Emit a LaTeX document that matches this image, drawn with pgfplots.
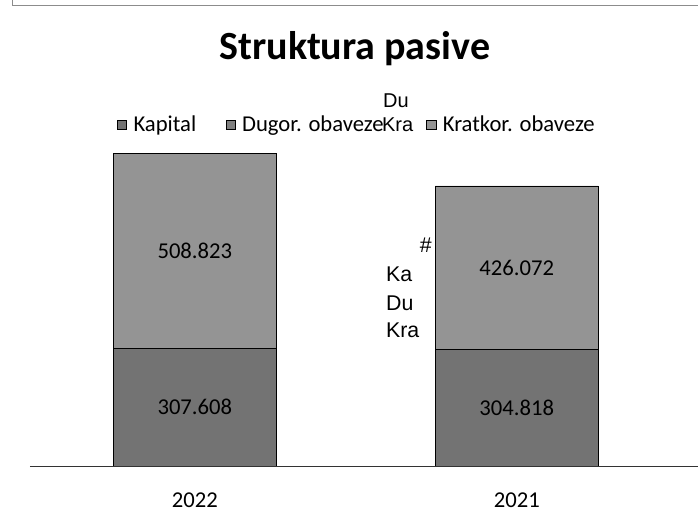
\documentclass[border=0pt]{standalone}
\usepackage{pgfplots}
\pgfplotsset{compat=1.18}
\usepackage{fontspec}
\setmainfont{Carlito}
\newfontfamily\arialfont{Liberation Sans}
\definecolor{kapital}{gray}{0.45}
\definecolor{dugor}{gray}{0.50}
\definecolor{kratkor}{gray}{0.58}
\begin{document}
\begin{tikzpicture}
\begin{scope}[x=0.75pt,y=0.75pt]
\useasboundingbox (0,0) rectangle (698,512);
% scan frame
\draw[black!45, thin] (12,512) -- (12,507) -- (698,507);
\end{scope}
\begin{axis}[
  at={(22.5pt,34.5pt)}, anchor=south west,
  scale only axis, width=501pt, height=238.5pt,
  ybar stacked, bar width=122pt,
  xmin=-0.512, xmax=1.562, ymin=0, ymax=830,
  axis x line=bottom, axis y line=none,
  x axis line style={-, black!80},
  xtick={0,1}, xticklabels={2022,2021},
  major tick length=0pt,
  xticklabel style={font=\fontsize{17}{20}\selectfont, yshift=-17pt},
  legend columns=3,
  legend style={at={(0.49,1.072)}, anchor=center, draw=none, fill=none,
    font=\fontsize{17}{20}\selectfont,
    /tikz/every odd column/.append style={column sep=3pt},
    /tikz/every even column/.append style={column sep=20pt}},
  legend image code/.code={\draw[#1, draw=black] (0pt,-3.5pt) rectangle (7pt,3.5pt);},
  point meta=explicit symbolic,
  every node near coord/.append style={anchor=center,
    font=\fontsize{17}{20}\selectfont, text=black},
]
  \addplot[fill=kapital, draw=black, nodes near coords]
    coordinates {(0,307.608)[307.608] (1,304.818)[304.818]};
  \addplot[fill=dugor, draw=black]
    coordinates {(0,0)[] (1,0)[]};
  \addplot[fill=kratkor, draw=black, nodes near coords]
    coordinates {(0,508.823)[508.823] (1,426.072)[426.072]};
  \legend{Kapital, {Dugor. obaveze\kern10pt}, {Kratkor. obaveze}}
\end{axis}
\begin{scope}[x=0.75pt,y=0.75pt]
\node[font=\fontsize{30}{36}\selectfont\bfseries] at (355,463) {Struktura pasive};
% stray label remnants in the original
\node[anchor=west, inner sep=0pt, font=\arialfont\fontsize{15}{17}\selectfont] at (383,411) {Du};
\node[anchor=west, inner sep=0pt, font=\arialfont\fontsize{15}{17}\selectfont] at (382,387) {Kra};
\node[font=\arialfont\fontsize{16}{19}\selectfont] at (426,267) {\#};
\node[anchor=west, inner sep=0pt, font=\arialfont\fontsize{16}{19}\selectfont] at (386,238) {Ka};
\node[anchor=west, inner sep=0pt, font=\arialfont\fontsize{16}{19}\selectfont] at (386,209) {Du};
\node[anchor=west, inner sep=0pt, font=\arialfont\fontsize{16}{19}\selectfont] at (386,182) {Kra};
\end{scope}
\end{tikzpicture}
\end{document}
